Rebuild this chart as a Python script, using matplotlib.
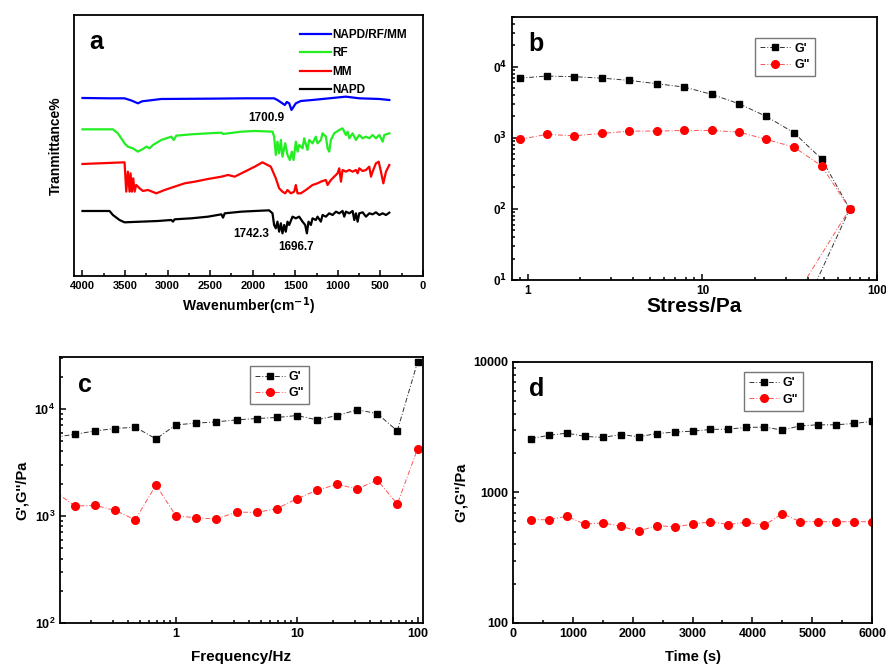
import math
import matplotlib
matplotlib.use("Agg")
import matplotlib.pyplot as plt
from matplotlib.ticker import FuncFormatter, NullFormatter, MultipleLocator

plt.rcParams['font.family'] = ['Liberation Sans', 'DejaVu Sans']
plt.rcParams['font.weight'] = 'bold'
plt.rcParams['mathtext.default'] = 'bf'

# ---- panel a: FTIR spectra (transmittance, a.u.) ----
blue_wn = [4000, 3700, 3506, 3420, 3349, 3300, 3074, 2500, 2082, 1749, 1710, 1623, 1600,
           1572, 1545, 1494, 1435, 1298, 1102, 906, 749, 513, 396]
blue_t = [60.6, 60.5, 60.5, 59.8, 59.0, 59.6, 60.3, 60.4, 60.5, 60.5, 60.0, 58.5, 59.4,
          59.0, 57.0, 59.0, 59.7, 60.0, 60.5, 61.0, 60.5, 60.3, 60.0]

green_wn = [4000, 3643, 3584, 3506, 3467, 3408, 3349, 3290, 3251, 3212, 3172, 3074, 2957,
            2929, 2898, 2721, 2525, 2368, 2349, 2133, 1976, 1768, 1749, 1729, 1710, 1690,
            1670, 1651, 1619, 1592, 1564, 1541, 1521, 1494, 1474, 1455, 1415, 1396, 1357,
            1337, 1298, 1259, 1239, 1200, 1180, 1141, 1121, 1102, 1082, 1043, 984, 945,
            906, 886, 866, 827, 788, 749, 709, 670, 631, 592, 553, 513, 474, 455, 396]
green_t = [51.2, 51.2, 50.0, 47.0, 46.0, 45.5, 44.5, 45.3, 46.0, 45.5, 46.5, 48.0, 49.0,
           48.0, 49.3, 49.7, 50.0, 50.2, 49.8, 50.5, 50.7, 50.5, 49.0, 43.5, 47.5, 44.0,
           48.0, 43.0, 47.0, 43.5, 42.0, 44.5, 42.0, 47.5, 44.5, 46.5, 45.5, 48.5, 45.0,
           48.0, 47.0, 49.0, 47.0, 48.0, 50.0, 49.0, 45.5, 44.5, 48.0, 50.0, 51.0, 51.5,
           49.5, 50.5, 48.5, 50.0, 48.0, 49.5, 48.5, 49.0, 48.5, 49.5, 48.5, 49.5, 47.5, 49.5, 50.0]

red_wn = [4000, 3506, 3486, 3467, 3447, 3435, 3420, 3404, 3388, 3369, 3329, 3290, 3231,
          3133, 3035, 2918, 2800, 2682, 2525, 2368, 2290, 2212, 2133, 1976, 1886, 1788,
          1729, 1690, 1651, 1619, 1592, 1553, 1513, 1494, 1474, 1435, 1376, 1298, 1239,
          1200, 1141, 1121, 1082, 1043, 1004, 984, 964, 945, 906, 866, 827, 788, 768, 749,
          709, 670, 631, 611, 592, 553, 521, 494, 466, 435, 396]
red_t = [40.8, 41.3, 32.5, 38.5, 32.5, 38.0, 32.5, 36.5, 32.5, 34.5, 33.5, 32.7, 33.0,
         32.0, 33.0, 34.0, 35.0, 35.5, 36.3, 37.0, 37.5, 37.0, 38.0, 40.0, 41.3, 40.0,
         36.5, 33.5, 32.5, 32.0, 33.0, 32.0, 32.5, 34.5, 32.0, 32.0, 33.0, 34.5, 35.0,
         35.5, 36.0, 34.5, 36.0, 37.0, 38.0, 39.5, 35.5, 39.0, 38.5, 39.0, 38.5, 39.0, 38.0, 39.5,
         38.7, 39.0, 40.0, 37.0, 38.5, 41.0, 41.5, 38.5, 35.0, 38.5, 40.5]

black_wn = [4000, 3682, 3643, 3565, 3506, 3310, 3114, 2957, 2937, 2918, 2721, 2525, 2368,
            2349, 2329, 2133, 1976, 1808, 1768, 1749, 1729, 1710, 1690, 1670, 1651, 1631,
            1612, 1592, 1572, 1533, 1494, 1455, 1415, 1384, 1364, 1345, 1317, 1298, 1259,
            1239, 1200, 1180, 1141, 1102, 1062, 1023, 984, 945, 925, 906, 866, 827, 807,
            788, 768, 749, 709, 670, 631, 592, 553, 513, 474, 435, 396]
black_t = [26.7, 26.7, 25.5, 24.0, 23.3, 23.5, 23.7, 24.0, 23.5, 24.2, 24.5, 25.0, 25.7,
           24.7, 26.0, 26.5, 26.7, 26.9, 26.0, 22.5, 21.5, 23.5, 20.5, 23.0, 20.0, 22.5,
           20.5, 23.5, 22.5, 25.0, 24.5, 25.0, 23.5, 22.5, 20.0, 23.5, 22.5, 24.5, 24.0,
           25.0, 23.5, 25.5, 25.0, 26.0, 25.5, 26.5, 26.0, 26.7, 25.0, 26.5, 26.0, 26.7, 24.0,
           26.0, 23.5, 26.0, 26.3, 25.0, 26.0, 25.7, 26.3, 25.5, 26.0, 25.5, 26.2]

spectra_labels = ['NAPD/RF/MM', 'RF', 'MM', 'NAPD']
spectra_colors = ['#0000ff', '#22ee22', '#ff0000', '#000000']

# peak labels: text, wavenumber position, transmittance position
peak_text = ['1700.9', '1742.3', '1696.7']
peak_wn = [1835, 2023, 1494]
peak_t = [54.5, 19.7, 16.0]

# ---- panel b: stress sweep ----
stress_g1 = [0.895, 1.28, 1.84, 2.65, 3.81, 5.46, 7.86, 11.3, 16.2, 23.2, 33.4, 48.1, 69.8, 38.9]
g1_stress = [6900, 7380, 7230, 6900, 6420, 5760, 5170, 4080, 3010, 2000, 1180, 505, 100, 4.4]
stress_g2 = [0.895, 1.28, 1.84, 2.65, 3.81, 5.46, 7.86, 11.3, 16.2, 23.2, 33.4, 48.1, 69.8, 32.7]
g2_stress = [949, 1115, 1067, 1151, 1242, 1242, 1268, 1268, 1202, 949, 740, 403, 100, 5.0]

# ---- panel c: frequency sweep ----
freq = [0.1, 0.147, 0.215, 0.315, 0.461, 0.684, 1.0, 1.46, 2.15, 3.17, 4.64, 6.79,
        10.0, 14.6, 21.4, 31.6, 46.1, 67.5, 99.4]
g1_freq = [5430, 5790, 6220, 6550, 6740, 5240, 7080, 7350, 7550, 7890, 8120, 8300,
           8660, 7890, 8660, 9790, 9040, 6220, 27400]
g2_freq = [1680, 1236, 1254, 1125, 920, 1945, 1000, 961, 934, 1086, 1078, 1167,
           1448, 1733, 1973, 1784, 2163, 1291, 4230]

# ---- panel d: time sweep ----
time_s = [300, 600, 900, 1200, 1500, 1800, 2100, 2400, 2700, 3000, 3300, 3600, 3900,
          4200, 4500, 4800, 5100, 5400, 5700, 6000]
g1_time = [2590, 2740, 2850, 2690, 2640, 2780, 2670, 2830, 2900, 2950, 3040, 3060, 3150,
           3170, 3010, 3240, 3300, 3300, 3380, 3500]
g2_time = [620, 617, 658, 571, 585, 551, 505, 558, 545, 571, 596, 568, 592,
           561, 689, 596, 598, 596, 598, 596]

fig = plt.figure(figsize=(8.87, 6.66), dpi=100)
ax_a = fig.add_axes([0.0834, 0.5856, 0.3935, 0.3919])
ax_b = fig.add_axes([0.5772, 0.5796, 0.4115, 0.3949])
ax_c = fig.add_axes([0.0676, 0.0646, 0.4092, 0.3994])
ax_d = fig.add_axes([0.5784, 0.0646, 0.4047, 0.3919])

for ax, ls in ((ax_a, 8), (ax_b, 8.5), (ax_c, 9), (ax_d, 9)):
    for s in ax.spines.values():
        s.set_linewidth(1.3)
    ax.tick_params(which='both', direction='in', labelsize=ls, width=1.1)
    ax.tick_params(which='major', length=4)
    ax.tick_params(which='minor', length=2.5)

# panel a
for wn, t, lab, col in zip([blue_wn, green_wn, red_wn, black_wn],
                           [blue_t, green_t, red_t, black_t],
                           spectra_labels, spectra_colors):
    ax_a.plot(wn, t, color=col, lw=1.6, label=lab)
ax_a.set_xlim(4100, 0)
ax_a.set_ylim(7.2, 85.5)
ax_a.set_yticks([])
ax_a.xaxis.set_major_locator(MultipleLocator(500))
ax_a.xaxis.set_minor_locator(MultipleLocator(250))
ax_a.set_xlabel('Wavenumber(cm$^{-1}$)', fontsize=10, fontweight='bold', labelpad=3)
ax_a.set_ylabel('Tranmittance%', fontsize=10, fontweight='bold', labelpad=8)
ax_a.legend(loc='upper left', frameon=False, fontsize=8.5, handlelength=2.6,
            handletextpad=0.1, labelspacing=0.55, borderaxespad=0.0,
            bbox_to_anchor=(0.635, 0.965))
ax_a.text(0.045, 0.87, 'a', transform=ax_a.transAxes, fontsize=18, fontweight='bold')
for txt, x, y in zip(peak_text, peak_wn, peak_t):
    ax_a.text(x, y, txt, fontsize=8.5, fontweight='bold', ha='center', va='center')

def style_moduli(ax, x1, y1, x2, y2):
    ax.plot(x1, y1, color='#333333', lw=0.7, ls=(0, (5, 2, 1, 2)), marker='s', ms=5,
            mfc='black', mec='black', label="G'")
    ax.plot(x2, y2, color='#ff5555', lw=0.7, ls=(0, (5, 2, 1, 2)), marker='o', ms=5.5,
            mfc='red', mec='red', label='G"')

def boxed_legend(ax, anchor):
    leg = ax.legend(loc='upper left', bbox_to_anchor=anchor, fontsize=9, frameon=True,
                    fancybox=False, edgecolor='#555555', handlelength=2.4,
                    handletextpad=0.3, borderpad=0.4, labelspacing=0.35)
    leg.get_frame().set_linewidth(1.0)

# panel b
style_moduli(ax_b, stress_g1, g1_stress, stress_g2, g2_stress)
ax_b.set_xscale('log')
ax_b.set_yscale('log')
ax_b.set_xlim(0.81, 100)
ax_b.set_ylim(10, 50000)
ax_b.yaxis.set_major_formatter(FuncFormatter(lambda v, p: '0$^{%d}$' % round(math.log10(v))))
ax_b.yaxis.set_minor_formatter(NullFormatter())
ax_b.xaxis.set_major_formatter(FuncFormatter(lambda v, p: '%g' % v))
ax_b.xaxis.set_minor_formatter(NullFormatter())
ax_b.set_xlabel('Stress/Pa', fontsize=15, fontweight='bold', labelpad=0)
ax_b.text(0.045, 0.87, 'b', transform=ax_b.transAxes, fontsize=18, fontweight='bold')
boxed_legend(ax_b, (0.65, 0.945))

# panel c
style_moduli(ax_c, freq, g1_freq, freq, g2_freq)
ax_c.set_xscale('log')
ax_c.set_yscale('log')
ax_c.set_xlim(0.11, 110)
ax_c.set_ylim(100, 30500)
ax_c.xaxis.set_major_formatter(FuncFormatter(lambda v, p: '%g' % v))
ax_c.xaxis.set_minor_formatter(NullFormatter())
ax_c.yaxis.set_minor_formatter(NullFormatter())
ax_c.set_xlabel('Frequency/Hz', fontsize=11, fontweight='bold', labelpad=7)
ax_c.set_ylabel("G',G''/Pa", fontsize=10.5, fontweight='bold', labelpad=4)
ax_c.text(0.05, 0.87, 'c', transform=ax_c.transAxes, fontsize=18, fontweight='bold')
boxed_legend(ax_c, (0.505, 0.99))

# panel d
style_moduli(ax_d, time_s, g1_time, time_s, g2_time)
ax_d.set_yscale('log')
ax_d.set_xlim(0, 6000)
ax_d.set_ylim(100, 10000)
ax_d.xaxis.set_major_locator(MultipleLocator(1000))
ax_d.xaxis.set_minor_locator(MultipleLocator(500))
ax_d.yaxis.set_major_formatter(FuncFormatter(lambda v, p: '%d' % v))
ax_d.yaxis.set_minor_formatter(NullFormatter())
ax_d.set_xlabel('Time (s)', fontsize=10.5, fontweight='bold', labelpad=7)
ax_d.set_ylabel("G',G''/Pa", fontsize=10.5, fontweight='bold', labelpad=4)
ax_d.text(0.045, 0.87, 'd', transform=ax_d.transAxes, fontsize=18, fontweight='bold')
boxed_legend(ax_d, (0.625, 0.985))

for ax in (ax_a, ax_b, ax_c, ax_d):
    for lab in ax.get_xticklabels() + ax.get_yticklabels():
        lab.set_fontweight('bold')

fig.savefig('out.png', dpi=100, facecolor='white')
